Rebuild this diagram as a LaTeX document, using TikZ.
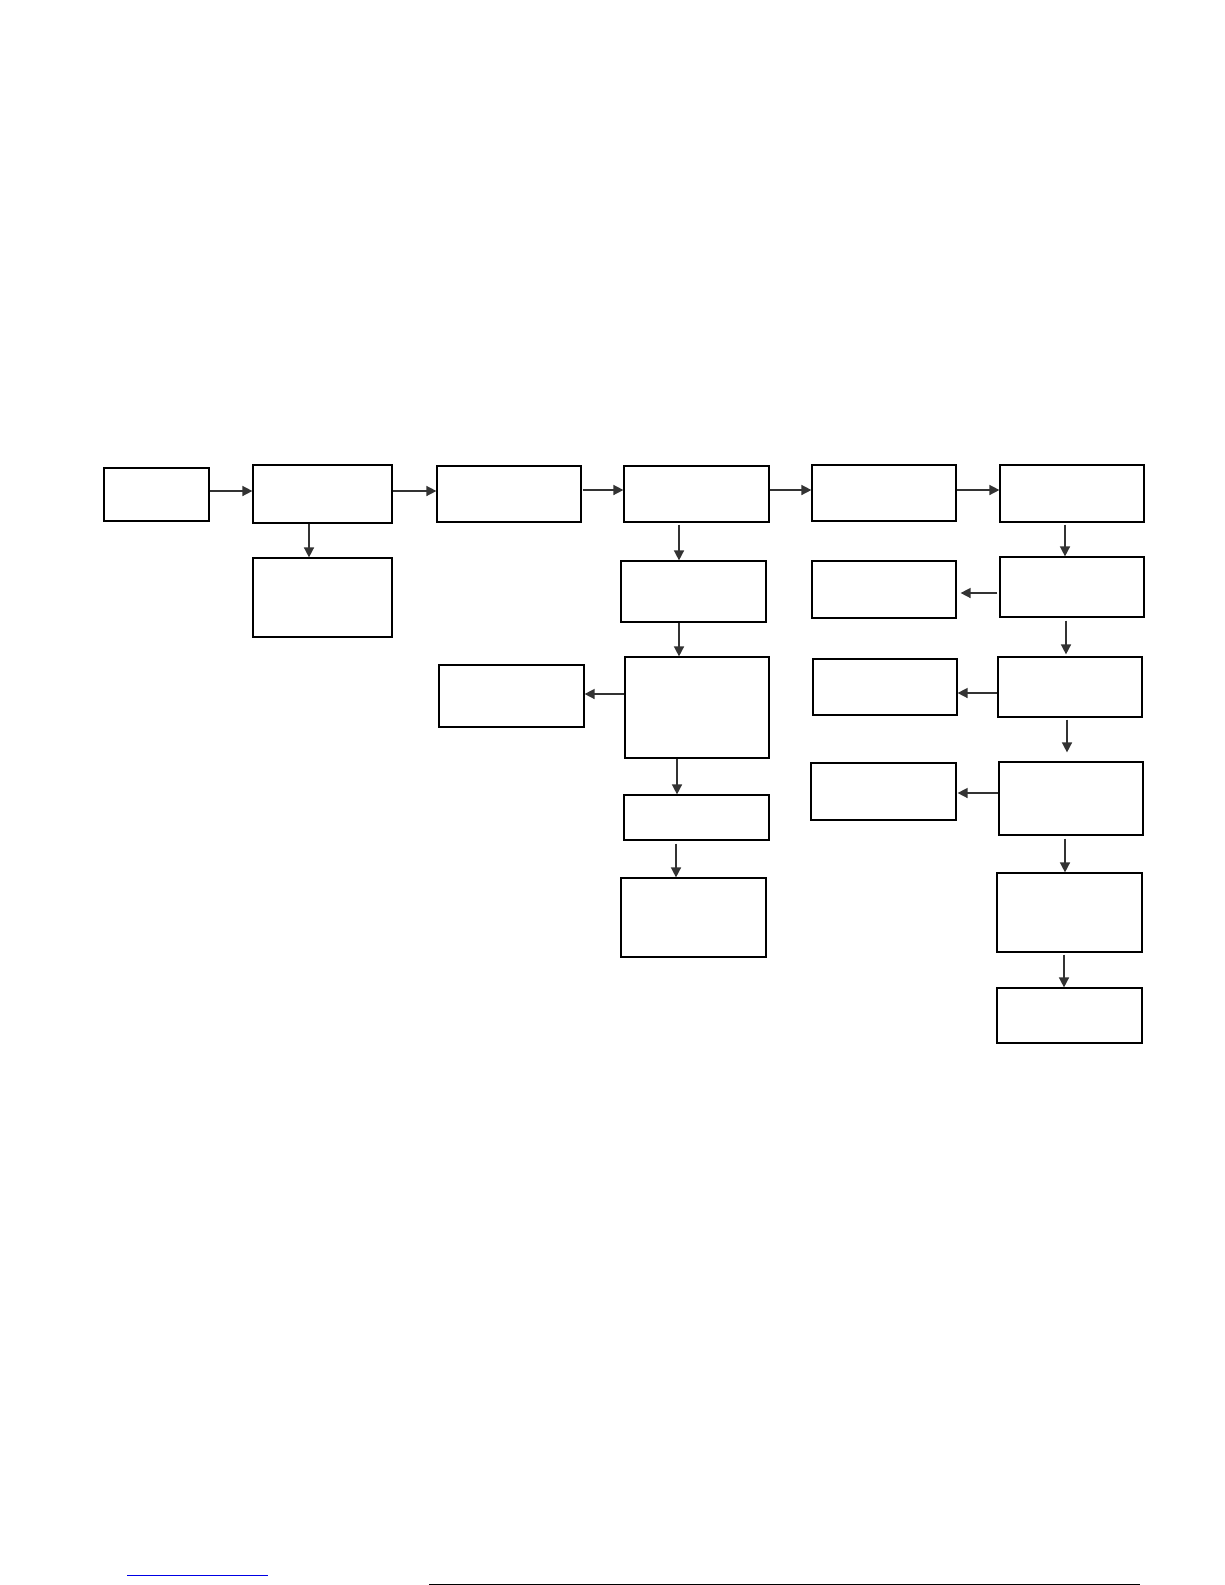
\documentclass[tikz,border=0pt]{standalone}
\usetikzlibrary{arrows.meta}
\begin{document}
\begin{tikzpicture}[x=1pt,y=-1pt,
  boxst/.style={draw=black,line width=1.2pt,inner sep=0pt,fill=white},
  conn/.style={draw=black!80,line width=1.5pt,-{Triangle[length=10pt,width=10pt]}}]
\useasboundingbox[fill=white] (0,0) rectangle (1225,1585);
% boxes: centre, width, height
\node[boxst,minimum width=105pt,minimum height=53pt] (A)  at (156.5,494.5) {};
\node[boxst,minimum width=139pt,minimum height=58pt] (B)  at (322.5,494) {};
\node[boxst,minimum width=139pt,minimum height=79pt] (B2) at (322.5,597.5) {};
\node[boxst,minimum width=144pt,minimum height=56pt] (C)  at (509,494) {};
\node[boxst,minimum width=145pt,minimum height=56pt] (D)  at (696.5,494) {};
\node[boxst,minimum width=145pt,minimum height=61pt] (D2) at (693.5,591.5) {};
\node[boxst,minimum width=144pt,minimum height=101pt] (D3) at (697,707.5) {};
\node[boxst,minimum width=145pt,minimum height=62pt] (L)  at (511.5,696) {};
\node[boxst,minimum width=145pt,minimum height=45pt] (D4) at (696.5,817.5) {};
\node[boxst,minimum width=145pt,minimum height=79pt] (D5) at (693.5,917.5) {};
\node[boxst,minimum width=144pt,minimum height=56pt] (E)  at (884,493) {};
\node[boxst,minimum width=144pt,minimum height=57pt] (F)  at (1072,493.5) {};
\node[boxst,minimum width=144pt,minimum height=60pt] (F2) at (1072,587) {};
\node[boxst,minimum width=144pt,minimum height=57pt] (E2) at (884,589.5) {};
\node[boxst,minimum width=144pt,minimum height=60pt] (F3) at (1070,687) {};
\node[boxst,minimum width=144pt,minimum height=56pt] (E3) at (885,687) {};
\node[boxst,minimum width=144pt,minimum height=73pt] (F4) at (1071,798.5) {};
\node[boxst,minimum width=145pt,minimum height=57pt] (E4) at (883.5,791.5) {};
\node[boxst,minimum width=145pt,minimum height=79pt] (F5) at (1069.5,912.5) {};
\node[boxst,minimum width=145pt,minimum height=55pt] (F6) at (1069.5,1015.5) {};
% guide coordinates for connector rows / columns
\coordinate (r491) at (0,491);
\coordinate (r490) at (0,490);
\coordinate (r694) at (0,694);
\coordinate (r593) at (0,593);
\coordinate (r693) at (0,693);
\coordinate (r793) at (0,793);
\coordinate (c309) at (309,0);
\coordinate (c679) at (679,0);
\coordinate (c677) at (677,0);
\coordinate (c676) at (676,0);
\coordinate (c1065) at (1065,0);
\coordinate (c1066) at (1066,0);
\coordinate (c1067) at (1067,0);
\coordinate (c1064) at (1064,0);
% horizontal connectors
\draw[conn] (A.east |- r491) -- (B.west |- r491);
\draw[conn] (B.east |- r491) -- (C.west |- r491);
\draw[conn,shorten <=1pt] (C.east |- r490) -- (D.west |- r490);
\draw[conn] (D.east |- r490) -- (E.west |- r490);
\draw[conn] (E.east |- r490) -- (F.west |- r490);
\draw[conn] (D3.west |- r694) -- (L.east |- r694);
\draw[conn,shorten <=2pt,shorten >=4pt] (F2.west |- r593) -- (E2.east |- r593);
\draw[conn] (F3.west |- r693) -- (E3.east |- r693);
\draw[conn,shorten >=1pt] (F4.west |- r793) -- (E4.east |- r793);
% vertical connectors
\draw[conn] (B.south -| c309) -- (B2.north -| c309);
\draw[conn,shorten <=2pt] (D.south -| c679) -- (D2.north -| c679);
\draw[conn] (D2.south -| c679) -- (D3.north -| c679);
\draw[conn] (D3.south -| c677) -- (D4.north -| c677);
\draw[conn,shorten <=3pt] (D4.south -| c676) -- (D5.north -| c676);
\draw[conn,shorten <=2pt] (F.south -| c1065) -- (F2.north -| c1065);
\draw[conn,shorten <=3pt,shorten >=2pt] (F2.south -| c1066) -- (F3.north -| c1066);
\draw[conn,shorten <=2pt,shorten >=9pt] (F3.south -| c1067) -- (F4.north -| c1067);
\draw[conn,shorten <=3pt] (F4.south -| c1065) -- (F5.north -| c1065);
\draw[conn,shorten <=2pt] (F5.south -| c1064) -- (F6.north -| c1064);
% bottom edge marks
\draw[blue!90!black,line width=1pt] (127,1575) -- (268,1575);
\draw[black,line width=1.2pt] (429,1584.3) -- (1140,1584.3);
\end{tikzpicture}
\end{document}
